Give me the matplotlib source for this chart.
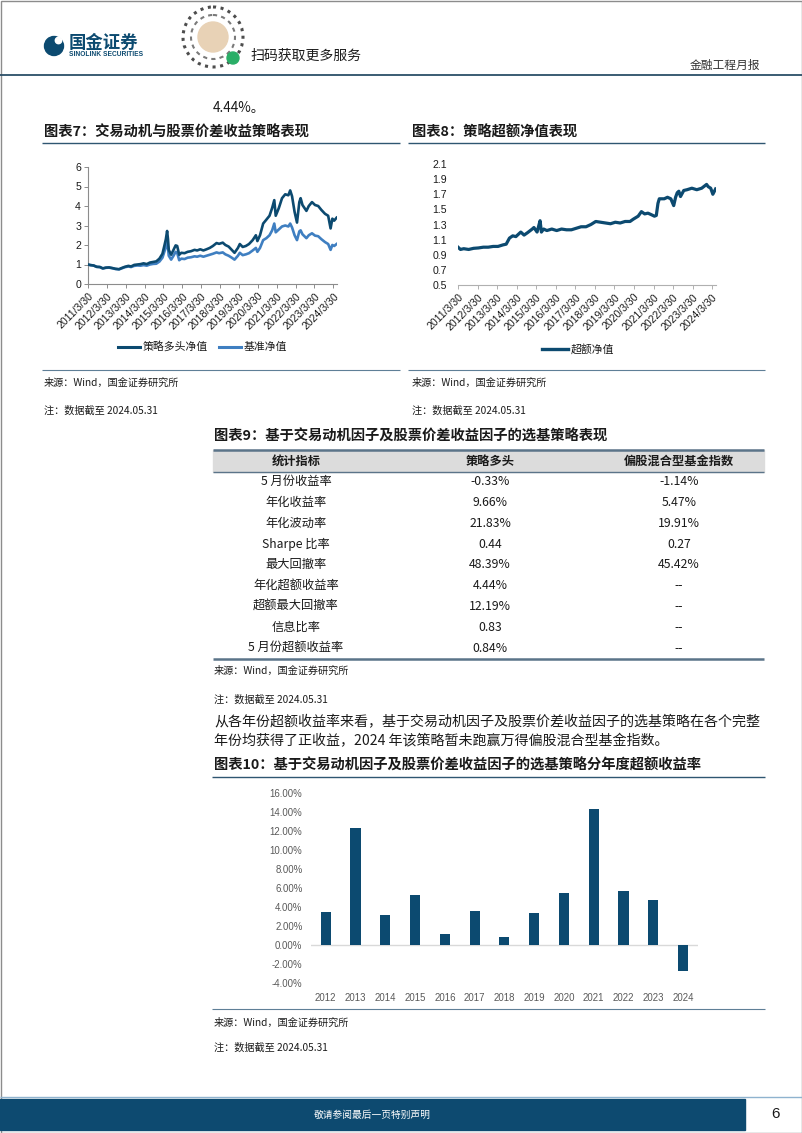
import matplotlib
matplotlib.use('Agg')
import matplotlib.pyplot as plt
import pandas as pd
from matplotlib.patches import Rectangle, Circle

plt.rcParams['font.family'] = ['Noto Sans CJK SC', 'DejaVu Sans']

W, H = 802, 1133
DARK = '#0c4a70'
LIGHT = '#3f7fc1'
RULE = '#2f5671'
NUM_FONT = ['Liberation Sans', 'Noto Sans CJK SC']

# 图表7：策略多头净值 / 基准净值
nav_dates = [
    '2011-03-30', '2011-05-15', '2011-07-15', '2011-09-15', '2011-11-15',
    '2012-01-10', '2012-03-10', '2012-05-10', '2012-07-10', '2012-09-10', '2012-11-20',
    '2013-01-10', '2013-03-10', '2013-05-20', '2013-07-10', '2013-09-10', '2013-11-10',
    '2014-01-10', '2014-03-10', '2014-05-10', '2014-07-10', '2014-09-10', '2014-11-10',
    '2015-01-10', '2015-03-10', '2015-04-15', '2015-05-15', '2015-06-08', '2015-06-25',
    '2015-07-10', '2015-08-25', '2015-10-10', '2015-11-20', '2015-12-20',
    '2016-01-28', '2016-03-10', '2016-05-10', '2016-07-10', '2016-09-10', '2016-11-20',
    '2017-01-10', '2017-03-10', '2017-05-10', '2017-07-10', '2017-09-10', '2017-11-10',
    '2018-01-20', '2018-03-10', '2018-05-20', '2018-07-10', '2018-09-10', '2018-11-10',
    '2019-01-03', '2019-03-10', '2019-04-15', '2019-06-10', '2019-08-10', '2019-10-10', '2019-12-20',
    '2020-02-20', '2020-03-20', '2020-05-10', '2020-07-10', '2020-09-10', '2020-11-10', '2020-12-31',
    '2021-02-10', '2021-03-10', '2021-05-10', '2021-07-10', '2021-09-10', '2021-11-10', '2021-12-15',
    '2022-01-20', '2022-03-10', '2022-04-26', '2022-06-10', '2022-07-05', '2022-08-10', '2022-10-25', '2022-12-10',
    '2023-02-10', '2023-04-10', '2023-06-10', '2023-08-10', '2023-10-20', '2023-12-20',
    '2024-02-05', '2024-03-10', '2024-04-15', '2024-05-31',
]
strategy_nav = [
    1.00, 0.97, 0.95, 0.88, 0.87,
    0.80, 0.84, 0.85, 0.82, 0.78, 0.76,
    0.82, 0.88, 0.93, 0.90, 0.98, 1.00,
    1.02, 1.06, 1.02, 1.10, 1.13, 1.16,
    1.30, 1.55, 1.95, 2.30, 2.72, 2.30, 1.75, 1.50, 1.75, 1.98, 1.95,
    1.50, 1.60, 1.58, 1.65, 1.68, 1.75,
    1.72, 1.78, 1.72, 1.78, 1.85, 1.95,
    2.10, 2.06, 2.12, 2.00, 1.92, 1.75,
    1.60, 1.85, 2.05, 1.90, 1.95, 2.05, 2.25,
    2.50, 2.20, 2.50, 3.10, 3.30, 3.50, 3.90,
    4.30, 3.50, 3.90, 4.40, 4.60, 4.55, 4.80,
    4.50, 3.70, 3.15, 4.20, 4.40, 4.05, 3.75, 4.00,
    4.20, 4.05, 4.00, 3.80, 3.60, 3.50,
    2.85, 3.35, 3.25, 3.40,
]
benchmark_nav = [
    1.00, 0.97, 0.95, 0.88, 0.87,
    0.80, 0.83, 0.84, 0.81, 0.77, 0.75,
    0.80, 0.86, 0.90, 0.87, 0.93, 0.95,
    0.94, 0.97, 0.94, 1.00, 1.03, 1.04,
    1.15, 1.35, 1.65, 1.90, 2.15, 1.85, 1.45, 1.25, 1.45, 1.65, 1.60,
    1.22, 1.30, 1.28, 1.35, 1.37, 1.42,
    1.40, 1.45, 1.40, 1.45, 1.50, 1.55,
    1.62, 1.58, 1.62, 1.52, 1.45, 1.35,
    1.25, 1.45, 1.60, 1.48, 1.52, 1.58, 1.72,
    1.85, 1.65, 1.85, 2.25, 2.35, 2.50, 2.75,
    3.10, 2.65, 2.80, 2.95, 3.00, 2.95, 3.10,
    2.90, 2.50, 2.25, 2.70, 2.75, 2.55, 2.35, 2.50,
    2.60, 2.48, 2.45, 2.30, 2.15, 2.05,
    1.75, 2.00, 1.95, 2.05,
]

# 图表8：超额净值
excess_dates = [
    '2011-03-30', '2011-05-15', '2011-07-15', '2011-10-15',
    '2012-01-15', '2012-04-15', '2012-07-15', '2012-10-15',
    '2013-01-15', '2013-04-15', '2013-07-15', '2013-09-15', '2013-11-15',
    '2014-01-15', '2014-03-15', '2014-05-15', '2014-06-15', '2014-08-15', '2014-10-15',
    '2015-01-15', '2015-02-15', '2015-04-15', '2015-05-15', '2015-06-10', '2015-07-05', '2015-08-15', '2015-10-15',
    '2016-01-15', '2016-04-15', '2016-07-15', '2016-10-15',
    '2017-01-15', '2017-04-15', '2017-07-15', '2017-10-15',
    '2018-01-15', '2018-04-15', '2018-07-15', '2018-10-15',
    '2019-01-15', '2019-04-15', '2019-07-15', '2019-10-15',
    '2020-01-15', '2020-03-15', '2020-06-15', '2020-08-15', '2020-10-15', '2020-12-15',
    '2021-02-15', '2021-04-15', '2021-05-20', '2021-06-20', '2021-07-15', '2021-10-15', '2021-12-15',
    '2022-02-15', '2022-04-10', '2022-05-15', '2022-06-15', '2022-07-15', '2022-08-15', '2022-10-15', '2022-12-15',
    '2023-03-15', '2023-06-15', '2023-09-15', '2023-12-15',
    '2024-01-15', '2024-03-01', '2024-04-10', '2024-05-31',
]
excess_nav = [
    1.00, 0.97, 0.98, 0.97,
    0.985, 0.99, 1.00, 1.00,
    1.01, 1.01, 1.03, 1.04, 1.12,
    1.15, 1.14, 1.18, 1.20, 1.16, 1.19,
    1.24, 1.26, 1.20, 1.28, 1.35, 1.20, 1.24, 1.22,
    1.24, 1.22, 1.24, 1.23,
    1.23, 1.25, 1.27, 1.27,
    1.30, 1.34, 1.33, 1.32,
    1.31, 1.33, 1.32, 1.34,
    1.34, 1.37, 1.41, 1.47, 1.44, 1.45,
    1.43, 1.41, 1.42, 1.58, 1.64, 1.64, 1.66,
    1.64, 1.55, 1.66, 1.72, 1.74, 1.67, 1.75, 1.76,
    1.78, 1.76, 1.78, 1.83,
    1.80, 1.78, 1.70, 1.77,
]

date_ticks = ['2011/3/30', '2012/3/30', '2013/3/30', '2014/3/30', '2015/3/30',
              '2016/3/30', '2017/3/30', '2018/3/30', '2019/3/30', '2020/3/30',
              '2021/3/30', '2022/3/30', '2023/3/30', '2024/3/30']

# 图表9：统计表
table_header = ['统计指标', '策略多头', '偏股混合型基金指数']
metric_names = ['5 月份收益率', '年化收益率', '年化波动率', 'Sharpe 比率', '最大回撤率',
                '年化超额收益率', '超额最大回撤率', '信息比率', '5 月份超额收益率']
strategy_stats = ['-0.33%', '9.66%', '21.83%', '0.44', '48.39%', '4.44%', '12.19%', '0.83', '0.84%']
fund_index_stats = ['-1.14%', '5.47%', '19.91%', '0.27', '45.42%', '--', '--', '--', '--']

# 图表10：分年度超额收益率（%）
years = ['2012', '2013', '2014', '2015', '2016', '2017', '2018',
         '2019', '2020', '2021', '2022', '2023', '2024']
yearly_excess = [3.54, 12.30, 3.19, 5.26, 1.16, 3.58, 0.91, 3.37, 5.50, 14.38, 5.68, 4.77, -2.67]


fig = plt.figure(figsize=(W / 100, H / 100), dpi=100)
fig.patch.set_facecolor('white')

# 整页画布，像素坐标（y 向下）
page = fig.add_axes([0, 0, 1, 1], zorder=0)
page.set_xlim(0, W)
page.set_ylim(H, 0)
page.axis('off')


def px_axes(l, t, r, b):
    ax = fig.add_axes([l / W, 1 - b / H, (r - l) / W, (b - t) / H], zorder=2)
    ax.set_facecolor('none')
    return ax


def hline(y, x0, x1, color=RULE, lw=1.0):
    page.plot([x0, x1], [y, y], color=color, lw=lw, solid_capstyle='butt')


# ---- 页眉
page.add_patch(Rectangle((0.5, 0.5), W - 1, H - 1, fill=False, ec='#8c8c8c', lw=1))
page.add_patch(Circle((54, 46), 9.5, color=DARK))
page.add_patch(Circle((58.5, 40.5), 3.2, color='white'))
page.text(69, 43, '国金证券', fontsize=12.5, fontweight='bold', color=DARK, va='center')
page.text(69, 54.5, 'SINOLINK SECURITIES', fontsize=4.8, fontweight='bold', color=DARK,
          va='center', family=NUM_FONT)
page.add_patch(Circle((213, 37), 30, fill=False, ec='#4d4d4d', lw=2.2, ls=(0, (1, 1.5))))
page.add_patch(Circle((213, 37), 22, fill=False, ec='#7a7a7a', lw=1.5, ls=(0, (2, 2))))
page.add_patch(Circle((213, 37), 15, color='#e8d2b6'))
page.add_patch(Circle((233, 58), 6, color='#2aae67'))
page.text(250, 56, '扫码获取更多服务', fontsize=10, color='#1a1a1a', va='center')
page.text(760, 65, '金融工程月报', fontsize=8.5, color='#333333', va='center', ha='right')
hline(75, 0, W, color='#2b4f68', lw=1.3)

page.text(213, 108, '4.44%。', fontsize=9.8, color='#1a1a1a', va='center')

# ---- 标题
title_kw = dict(fontsize=10.3, fontweight='bold', color='#1a1a1a', va='center')
page.text(44, 133, '图表7：交易动机与股票价差收益策略表现', **title_kw)
hline(143, 42, 400)
page.text(412, 133, '图表8：策略超额净值表现', **title_kw)
hline(143, 408, 765)

# ---- 图表7
ax7 = px_axes(88, 167, 337, 284)
d7 = pd.to_datetime(nav_dates)
ax7.plot(d7, strategy_nav, color=DARK, lw=1.9, zorder=3)
ax7.plot(d7, benchmark_nav, color=LIGHT, lw=1.9, zorder=2)
ax7.set_ylim(0, 6)
ax7.set_yticks(range(0, 7))
tick_pos = pd.to_datetime(date_ticks, format='%Y/%m/%d')
ax7.set_xlim(pd.Timestamp('2011-03-30'), pd.Timestamp('2024-06-08'))
ax7.set_xticks(tick_pos)
ax7.set_xticklabels(date_ticks, rotation=45, ha='right', rotation_mode='anchor')
for s in ['top', 'right']:
    ax7.spines[s].set_visible(False)
for s in ['left', 'bottom']:
    ax7.spines[s].set_color('#8c8c8c')
    ax7.spines[s].set_linewidth(0.8)
ax7.tick_params(length=3, width=0.7, color='#8c8c8c', labelsize=7.6, pad=2, labelcolor='#1a1a1a')
for lab in ax7.get_xticklabels() + ax7.get_yticklabels():
    lab.set_family(NUM_FONT)

# 图例
page.plot([118, 140], [346.5, 346.5], color=DARK, lw=2.2)
page.text(143, 346.5, '策略多头净值', fontsize=7.8, va='center', color='#1a1a1a')
page.plot([219, 241], [346.5, 346.5], color=LIGHT, lw=2.2)
page.text(244, 346.5, '基准净值', fontsize=7.8, va='center', color='#1a1a1a')

# ---- 图表8
ax8 = px_axes(458, 164, 716, 285)
d8 = pd.to_datetime(excess_dates)
ax8.plot(d8, excess_nav, color=DARK, lw=2.3)
ax8.set_ylim(0.5, 2.1)
y8 = [0.5, 0.7, 0.9, 1.1, 1.3, 1.5, 1.7, 1.9, 2.1]
ax8.set_yticks(y8)
ax8.set_yticklabels([f'{v:.1f}' for v in y8])
ax8.set_xlim(pd.Timestamp('2011-03-30'), pd.Timestamp('2024-06-08'))
ax8.set_xticks(tick_pos)
ax8.set_xticklabels(date_ticks, rotation=45, ha='right', rotation_mode='anchor')
for s in ['top', 'right', 'left']:
    ax8.spines[s].set_visible(False)
ax8.spines['bottom'].set_color('#b0b0b0')
ax8.spines['bottom'].set_linewidth(0.8)
ax8.tick_params(axis='x', length=3, width=0.7, color='#b0b0b0', labelsize=7.6, pad=2,
                labelcolor='#1a1a1a')
ax8.tick_params(axis='y', length=0, labelsize=7.6, pad=8, labelcolor='#1a1a1a')
for lab in ax8.get_xticklabels() + ax8.get_yticklabels():
    lab.set_family(NUM_FONT)

page.plot([542, 568], [349, 349], color=DARK, lw=2.4)
page.text(571, 349, '超额净值', fontsize=7.8, va='center', color='#1a1a1a')

# ---- 来源
src_kw = dict(fontsize=7.3, color='#1a1a1a', va='center')
hline(370, 42, 400, color='#5f7f97', lw=0.8)
hline(370, 408, 765, color='#5f7f97', lw=0.8)
page.text(44, 383, '来源：Wind，国金证券研究所', **src_kw)
page.text(412, 383, '来源：Wind，国金证券研究所', **src_kw)
page.text(44, 411, '注：数据截至 2024.05.31', **src_kw)
page.text(412, 411, '注：数据截至 2024.05.31', **src_kw)

# ---- 图表9 表格
page.text(214, 437, '图表9：基于交易动机因子及股票价差收益因子的选基策略表现', **title_kw)
tx0, tx1 = 213, 764
col_x = [296, 490, 679]
page.add_patch(Rectangle((tx0, 449.5), tx1 - tx0, 22.5, color='#dcdcdc', zorder=1))
hline(449.5, tx0, tx1, color='#5b7489', lw=1.8)
hline(472, tx0, tx1, color='#5b7489', lw=1.0)
for x, s in zip(col_x, table_header):
    page.text(x, 461, s, fontsize=8.8, fontweight='bold', ha='center', va='center',
              color='#1a1a1a', zorder=3)
for i, (name, a, b) in enumerate(zip(metric_names, strategy_stats, fund_index_stats)):
    y = 481.7 + i * 20.8
    page.text(col_x[0], y, name, fontsize=8.8, ha='center', va='center', color='#1a1a1a')
    page.text(col_x[1], y, a, fontsize=8.8, ha='center', va='center', color='#1a1a1a')
    page.text(col_x[2], y, b, fontsize=8.8, ha='center', va='center', color='#1a1a1a')
hline(658.5, tx0, tx1, color='#5b7489', lw=1.8)
page.text(214, 671, '来源：Wind，国金证券研究所', **src_kw)
page.text(214, 700, '注：数据截至 2024.05.31', **src_kw)

# ---- 正文
body_kw = dict(fontsize=10.1, color='#1a1a1a', va='center')
page.text(214, 722, '从各年份超额收益率来看，基于交易动机因子及股票价差收益因子的选基策略在各个完整', **body_kw)
page.text(214, 741, '年份均获得了正收益，2024 年该策略暂未跑赢万得偏股混合型基金指数。', **body_kw)

# ---- 图表10
page.text(214, 766, '图表10：基于交易动机因子及股票价差收益因子的选基策略分年度超额收益率', **title_kw)
hline(777, 212, 765)
ax10 = px_axes(310.8, 793.3, 698, 983.3)
xs = range(len(years))
ax10.bar(xs, yearly_excess, width=0.34, color=DARK, zorder=3)
ax10.axhline(0, color='#d9d9d9', lw=1.0, zorder=2)
ax10.set_xlim(-0.5, len(years) - 0.5)
ax10.set_ylim(-4, 16)
y10 = [-4, -2, 0, 2, 4, 6, 8, 10, 12, 14, 16]
ax10.set_yticks(y10)
ax10.set_yticklabels([f'{v:.2f}%' for v in y10])
ax10.set_xticks(list(xs))
ax10.set_xticklabels(years)
for s in ax10.spines.values():
    s.set_visible(False)
ax10.tick_params(axis='y', length=0, pad=6, labelsize=6.9, labelcolor='#595959')
ax10.tick_params(axis='x', length=0, pad=7, labelsize=6.9, labelcolor='#595959')
for lab in ax10.get_xticklabels() + ax10.get_yticklabels():
    lab.set_family(NUM_FONT)

hline(1009, 212, 765, color='#5f7f97', lw=0.8)
page.text(214, 1023, '来源：Wind，国金证券研究所', **src_kw)
page.text(214, 1048, '注：数据截至 2024.05.31', **src_kw)

# ---- 页脚
hline(1097, 0, W, color='#8fb3cf', lw=1.0)
page.add_patch(Rectangle((0, 1099), 745, 31, color='#0d4a70'))
page.text(372, 1114.5, '敬请参阅最后一页特别声明', fontsize=7, color='white', ha='center', va='center')
page.text(775, 1114.5, '6', fontsize=11, color='#1a1a1a', ha='center', va='center', family=NUM_FONT)

fig.savefig('out.png', dpi=100, facecolor='white')
